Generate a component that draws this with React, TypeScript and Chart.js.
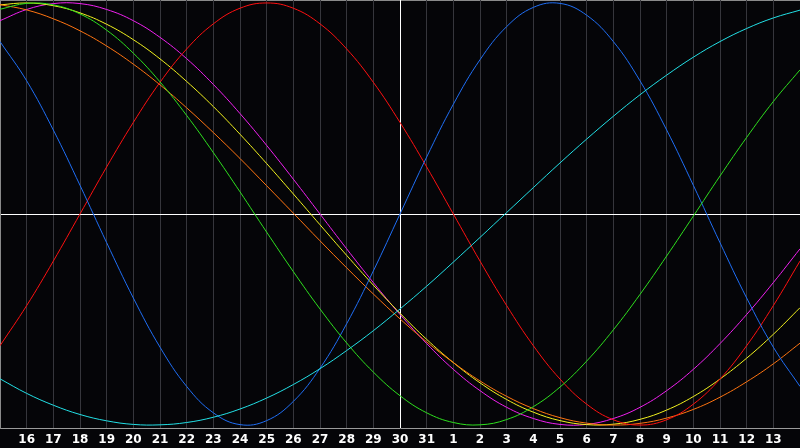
import { useEffect, useRef } from "react";
import { Chart, registerables } from "chart.js";

Chart.register(...registerables);

// days shown along the bottom, 30 is the middle (today)
const days = [
  "15", "16", "17", "18", "19", "20", "21", "22", "23", "24", "25", "26",
  "27", "28", "29", "30", "31", "1", "2", "3", "4", "5", "6", "7", "8",
  "9", "10", "11", "12", "13", "14",
];

// values, -1..1
const physical = [
  0.817, 0.631, 0.398, 0.136, -0.136, -0.398, -0.631, -0.817, -0.942, -0.998,
  -0.979, -0.888, -0.731, -0.52, -0.27, 0, 0.27, 0.52, 0.731, 0.888, 0.979,
  0.998, 0.942, 0.817, 0.631, 0.398, 0.136, -0.136, -0.398, -0.631, -0.817,
];
const emotional = [
  -0.624, -0.434, -0.223, 0, 0.223, 0.434, 0.624, 0.782, 0.901, 0.975, 1,
  0.975, 0.901, 0.782, 0.624, 0.434, 0.223, 0, -0.223, -0.434, -0.624, -0.782,
  -0.901, -0.975, -1, -0.975, -0.901, -0.782, -0.624, -0.434, -0.223,
];
const intellectual = [
  0.97, 0.998, 0.991, 0.948, 0.871, 0.762, 0.626, 0.467, 0.291, 0.105, -0.086,
  -0.273, -0.45, -0.611, -0.749, -0.861, -0.942, -0.988, -0.999, -0.974,
  -0.913, -0.82, -0.697, -0.549, -0.381, -0.199, -0.01, 0.18, 0.363, 0.533,
  0.683,
];
const intuitive = [
  0.916, 0.969, 0.997, 0.997, 0.969, 0.916, 0.837, 0.736, 0.614, 0.476, 0.325,
  0.165, 0, -0.165, -0.325, -0.476, -0.614, -0.736, -0.837, -0.916, -0.969,
  -0.997, -0.997, -0.969, -0.916, -0.837, -0.736, -0.614, -0.476, -0.325,
  -0.165,
];
const aesthetic = [
  0.991, 1.0, 0.987, 0.953, 0.899, 0.826, 0.735, 0.628, 0.509, 0.378, 0.239,
  0.095, -0.051, -0.196, -0.337, -0.47, -0.594, -0.704, -0.8, -0.879, -0.939,
  -0.979, -0.998, -0.996, -0.973, -0.929, -0.865, -0.782, -0.683, -0.57,
  -0.444,
];
const awareness = [
  0.992, 0.967, 0.925, 0.868, 0.796, 0.71, 0.612, 0.503, 0.386, 0.263, 0.134,
  0.004, -0.127, -0.255, -0.379, -0.497, -0.606, -0.704, -0.791, -0.864,
  -0.922, -0.965, -0.991, -1.0, -0.992, -0.967, -0.926, -0.868, -0.795, -0.71,
  -0.612,
];
const spiritual = [
  -0.781, -0.85, -0.906, -0.95, -0.98, -0.997, -0.999, -0.988, -0.963, -0.924,
  -0.872, -0.808, -0.733, -0.647, -0.553, -0.45, -0.342, -0.228, -0.111,
  0.007, 0.125, 0.242, 0.355, 0.463, 0.565, 0.658, 0.743, 0.817, 0.879,
  0.929, 0.966,
];

const frame = {
  id: "frame",
  beforeDraw(chart: Chart) {
    const { ctx, width, height, chartArea } = chart;
    ctx.save();
    ctx.fillStyle = "#050508";
    ctx.fillRect(0, 0, width, height);
    ctx.strokeStyle = "#8a8a8a";
    ctx.lineWidth = 1;
    ctx.beginPath();
    ctx.moveTo(chartArea.left, chartArea.top + 0.5);
    ctx.lineTo(chartArea.right, chartArea.top + 0.5);
    ctx.stroke();
    ctx.restore();
  },
};

export default function App() {
  const canvasRef = useRef<HTMLCanvasElement>(null);
  const chartRef = useRef<Chart | null>(null);

  useEffect(() => {
    if (!canvasRef.current) return;
    const ctx = canvasRef.current.getContext("2d");
    if (!ctx) return;

    const line = (data: number[], color: string) => ({
      data,
      borderColor: color,
      borderWidth: 1,
      pointRadius: 0,
      pointBorderWidth: 0,
      pointHoverRadius: 0,
      tension: 0.4,
      fill: false,
    });

    chartRef.current = new Chart(ctx, {
      type: "line",
      data: {
        labels: days,
        datasets: [
          line(spiritual, "#22e0e6"),
          line(intellectual, "#2ee01e"),
          line(physical, "#1f6ef5"),
          line(emotional, "#ff1010"),
          line(awareness, "#ff7410"),
          line(aesthetic, "#f2f21e"),
          line(intuitive, "#f020f0"),
        ],
      },
      options: {
        responsive: false,
        animation: false,
        layout: { padding: { left: 0, right: 0, top: 0, bottom: -4 }, autoPadding: false },
        plugins: {
          legend: { display: false },
          tooltip: { enabled: false },
        },
        scales: {
          x: {
            offset: false,
            border: { color: "#9a9a9a" },
            grid: {
              drawTicks: false,
              color: (c: any) =>
                c.index === 15 ? "#ffffff" : c.index === 0 ? "#8a8a8a" : "#36363c",
            },
            ticks: {
              autoSkip: false,
              maxRotation: 0,
              padding: 0,
              color: "#ffffff",
              font: { family: "DejaVu Sans", size: 12, weight: "bold", lineHeight: 2 },
              callback: (_v: any, i: number) =>
                i === 0 || i === days.length - 1 ? "" : days[i],
            },
          },
          y: {
            min: -1.014,
            max: 1.014,
            border: { color: "#8a8a8a" },
            grid: {
              drawTicks: false,
              color: (c: any) => (c.tick.value === 0 ? "#ffffff" : "transparent"),
            },
            ticks: { display: false, stepSize: 1 },
          },
        },
      },
      plugins: [frame],
    });

    return () => {
      if (chartRef.current) {
        chartRef.current.destroy();
      }
    };
  }, []);

  return (
    <div style={{ width: 800, height: 448, background: "#050508" }}>
      <style>{"body{margin:0;background:#050508}"}</style>
      <canvas ref={canvasRef} width={800} height={448} />
    </div>
  );
}
